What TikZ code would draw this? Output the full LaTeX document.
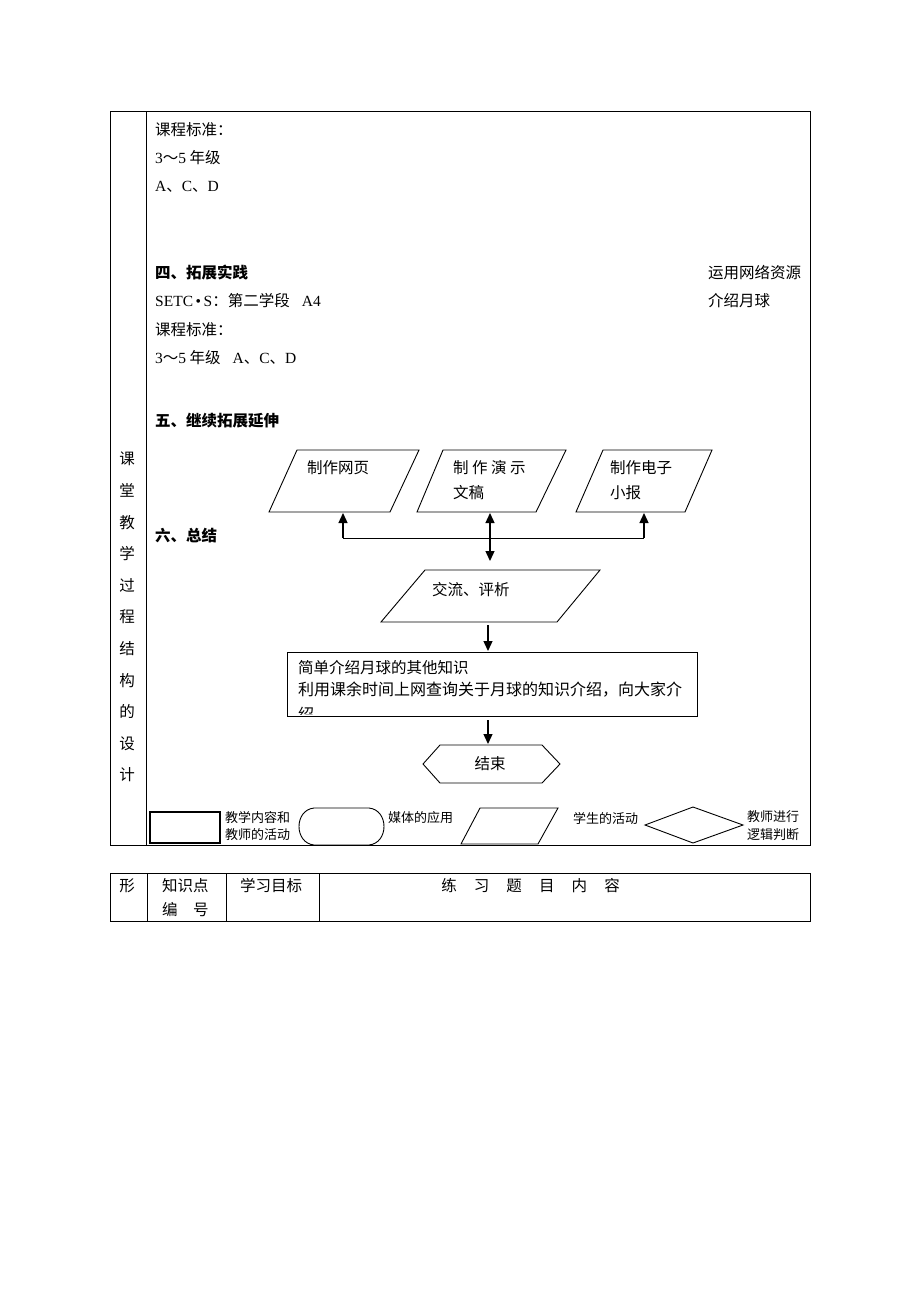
\documentclass[tikz,border=0pt]{standalone}
\usepackage{fontspec}
\setmainfont{Noto Sans CJK SC}
\newfontfamily\lat{Liberation Serif}
\usetikzlibrary{arrows.meta}
\begin{document}
\begin{tikzpicture}[x=1pt,y=-1pt]
\tikzset{
 txt/.style={anchor=west, inner sep=0pt, font=\fontsize{15.5}{18}\selectfont},
 btxt/.style={anchor=west, inner sep=0pt, font=\fontsize{15.5}{18}\selectfont\bfseries},
 ctxt/.style={anchor=center, inner sep=0pt, font=\fontsize{15.5}{18}\selectfont},
 smalltxt/.style={anchor=west, inner sep=0pt, font=\fontsize{13}{15}\selectfont},
 frame/.style={draw=black, line width=0.8pt},
 fshape/.style={draw=black, line width=0.9pt},
 tip/.tip={Triangle[length=10pt,width=9pt]},
 arr/.style={line width=1.3pt, -tip},
 plain/.style={line width=0.9pt},
}
\useasboundingbox (0,0) rectangle (920,1302);
\fill[white] (0,0) rectangle (920,1302);

% ---------- table 1 ----------
\draw[frame] (110,111) rectangle (810,845);
\draw[frame] (146,111) -- (146,845);
\foreach \c [count=\i from 0] in {课,堂,教,学,过,程,结,构,的,设,计}
  \node[ctxt, name=lc\i] at (127,{459+31.6*\i}) {\c};

\node[txt] (t1) at (155,130) {课程标准：};
\node[txt] (t2) at (155,158) {{\lat 3}～{\lat 5} 年级};
\node[txt] (t3) at (155,187) {{\lat A}、{\lat C}、{\lat D}};
\node[btxt] (t4) at (155,273) {四、拓展实践};
\node[txt] (t5) at (155,301) {{\lat SETC}{\lat\,•\,}{\lat S}：第二学段\hspace{12pt}{\lat A4}};
\node[txt] (t6) at (155,330) {课程标准：};
\node[txt] (t7) at (155,358) {{\lat 3}～{\lat 5} 年级\hspace{12pt}{\lat A}、{\lat C}、{\lat D}};
\node[btxt] (t8) at (155,421) {五、继续拓展延伸};
\node[btxt] (t9) at (155,536) {六、总结};
\node[txt] (r1) at (708,273) {运用网络资源};
\node[txt] (r2) at (708,301) {介绍月球};

% ---------- flowchart ----------
\draw[fshape] (297,450) -- (419,450) -- (390,512) -- (269,512) -- cycle;
\node[txt] (p1) at (307,468) {制作网页};
\draw[fshape] (443,450) -- (566,450) -- (536,512) -- (417,512) -- cycle;
\node[txt] (p2a) at (453,468) {制\hspace{3.5pt}作\hspace{3.5pt}演\hspace{3.5pt}示};
\node[txt] (p2b) at (453,493) {文稿};
\draw[fshape] (603,450) -- (712,450) -- (685,512) -- (576,512) -- cycle;
\node[txt] (p3a) at (610,468) {制作电子};
\node[txt] (p3b) at (610,493) {小报};

\coordinate (b1) at (343,513);
\coordinate (b2) at (490,513);
\coordinate (b3) at (644,513);
\coordinate (j1) at (343,538);
\coordinate (j3) at (644,538);
\coordinate (m1) at (490,561);
\draw[plain] (j1) -- (j3);
\draw[arr] (j1) -- (b1);
\draw[arr] (j3) -- (b3);
\draw[line width=1.3pt, tip-tip] (b2) -- (m1);

\draw[fshape] (425,570) -- (600,570) -- (557,622) -- (381,622) -- cycle;
\node[txt] (p4) at (432,590) {交流、评析};

\coordinate (a2s) at (488,625);
\coordinate (a2e) at (488,651);
\draw[arr] (a2s) -- (a2e);

\draw[fshape] (287,652) rectangle (697,716);
\begin{scope}
\clip (288,653) rectangle (696,714);
\node[txt] (q1) at (298,668) {简单介绍月球的其他知识};
\node[txt, font=\fontsize{16}{18}\selectfont] (q2) at (298,690) {利用课余时间上网查询关于月球的知识介绍，向大家介};
\node[txt, font=\fontsize{16}{18}\selectfont] (q3) at (298,714) {绍};
\end{scope}

\coordinate (a3s) at (488,720);
\coordinate (a3e) at (488,744);
\draw[arr] (a3s) -- (a3e);

\draw[fshape] (423,764) -- (440,745) -- (542,745) -- (560,764) -- (542,783) -- (440,783) -- cycle;
\node[ctxt] (end) at (490,764) {结束};

% ---------- legend ----------
\draw[draw=black, line width=1.2pt] (150,812) rectangle (220,843);
\node[smalltxt] (l1a) at (225,818) {教学内容和};
\node[smalltxt] (l1b) at (225,835) {教师的活动};
\draw[fshape] (314,808) -- (369,808) .. controls (389,810) and (389,843) .. (369,845) -- (314,845) .. controls (294,843) and (294,810) .. (314,808) -- cycle;
\node[smalltxt] (l2) at (388,818) {媒体的应用};
\draw[fshape] (480,808) -- (558,808) -- (538,844) -- (461,844) -- cycle;
\node[smalltxt] (l3) at (573,818) {学生的活动};
\draw[fshape] (645,825) -- (693,807) -- (743,825) -- (693,843) -- cycle;
\node[smalltxt] (l4a) at (747,817) {教师进行};
\node[smalltxt] (l4b) at (747,835) {逻辑判断};

% ---------- table 2 ----------
\draw[frame] (110,873) rectangle (810,921);
\draw[frame] (147,873) -- (147,921);
\draw[frame] (226,873) -- (226,921);
\draw[frame] (319,873) -- (319,921);
\node[ctxt] (u1) at (127,886) {形};
\node[txt] (u2) at (162,886) {知识点};
\node[txt] (u3) at (162,910) {编\hspace{15.5pt}号};
\node[txt] (u4) at (240,886) {学习目标};
\foreach \c [count=\i from 0] in {练,习,题,目,内,容}
  \node[ctxt, name=v\i] at ({449+32.6*\i},886) {\c};
\end{tikzpicture}
\end{document}
